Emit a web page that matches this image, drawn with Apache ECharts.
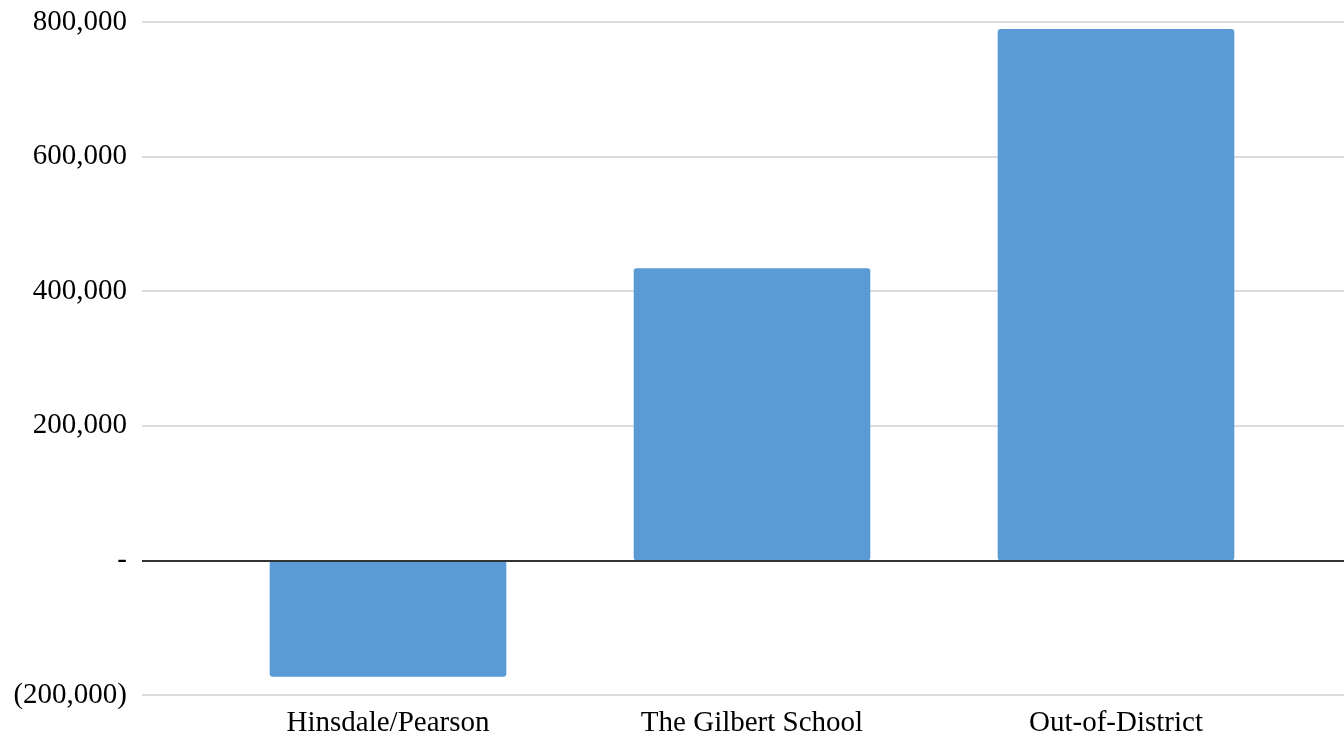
<!DOCTYPE html>
<html>
<head>
<meta charset="utf-8">
<script src="https://cdn.jsdelivr.net/npm/echarts@6/dist/echarts.min.js"></script>
<style>
html,body{margin:0;padding:0;background:#fff;}
#chart{width:1344px;height:739px;}
</style>
</head>
<body>
<div id="chart"></div>
<script>
const categories = ['Hinsdale/Pearson', 'The Gilbert School', 'Out-of-District'];
const values = [-172800, 434000, 789600];
const yMin = -200000;
const yMax = 800000;
const yStep = 200000;

function fmt(v) {
  if (v === 0) return '-';
  const s = Math.abs(v).toLocaleString('en-US');
  return v < 0 ? '(' + s + ')' : s;
}

const labelFont = { color: '#000', fontFamily: 'Liberation Serif', fontSize: 29 };

const chart = echarts.init(document.getElementById('chart'));
chart.setOption({
  animation: false,
  grid: [
    { left: 142, right: 0, top: 22, bottom: 44, containLabel: false },
    { left: 206, right: 46, top: 22, bottom: 44, containLabel: false }
  ],
  xAxis: [
    {
      gridIndex: 0,
      type: 'value',
      show: false
    },
    {
      gridIndex: 1,
      type: 'category',
      data: categories,
      axisLine: { show: false, onZero: false },
      axisTick: { show: false },
      axisLabel: Object.assign({ margin: 14 }, labelFont)
    }
  ],
  yAxis: [
    {
      gridIndex: 0,
      type: 'value',
      min: yMin,
      max: yMax,
      interval: yStep,
      axisLine: { show: false },
      axisTick: { show: false },
      splitLine: { lineStyle: { color: '#d0d0d0', width: 1.5 } },
      axisLabel: Object.assign({ margin: 15, formatter: fmt }, labelFont)
    },
    {
      gridIndex: 1,
      type: 'value',
      min: yMin,
      max: yMax,
      interval: yStep,
      show: false,
      splitLine: { show: false }
    }
  ],
  series: [
    {
      type: 'line',
      xAxisIndex: 0,
      yAxisIndex: 0,
      data: [],
      markLine: {
        silent: true,
        symbol: 'none',
        label: { show: false },
        lineStyle: { color: '#333', width: 2, type: 'solid' },
        data: [{ yAxis: 0 }]
      }
    },
    {
      type: 'bar',
      xAxisIndex: 1,
      yAxisIndex: 1,
      data: values,
      barWidth: '65%',
      itemStyle: { color: '#5B9BD5', borderRadius: 3 }
    }
  ]
});
</script>
</body>
</html>
